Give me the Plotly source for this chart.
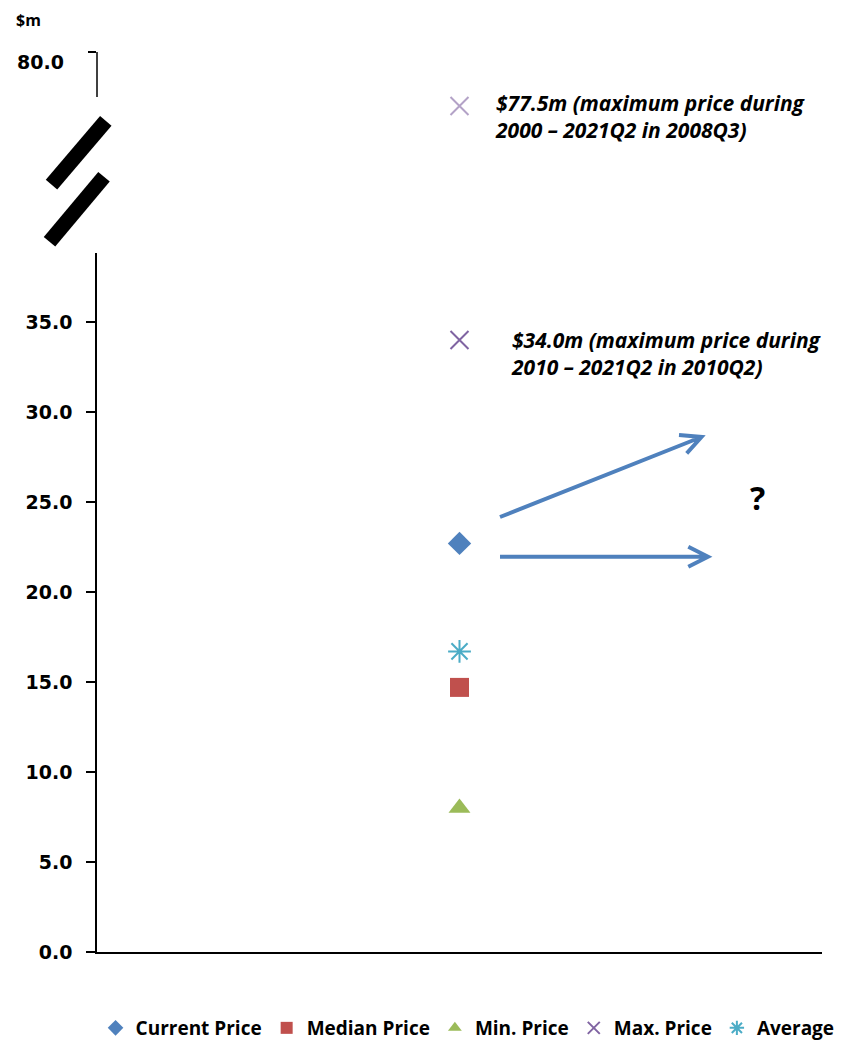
import plotly.graph_objects as go

# ---- data ----
category = [0.5]
current_price = [22.7]
median_price = [14.7]
min_price = [8.0]
max_price = [34.0]
max_price_all = [77.5]
average_price = [16.7]
y_ticks = [0, 5, 10, 15, 20, 25, 30, 35]

W, H = 845, 1040
L, R, T, B = 97, 822, 52, 952
PW, PH = R - L, B - T


def px(x):
    return (x - L) / PW


def py(y):
    return (B - y) / PH


BLUE = "#4F81BD"
fig = go.Figure()

fig.add_trace(go.Scatter(x=category, y=current_price, mode="markers", name="Current Price",
                         marker=dict(symbol="diamond", size=18, color=BLUE), cliponaxis=False))
fig.add_trace(go.Scatter(x=category, y=median_price, mode="markers", name="Median Price",
                         marker=dict(symbol="square", size=19, color="#C0504D"), cliponaxis=False))
fig.add_trace(go.Scatter(x=category, y=min_price, mode="markers", name="Min. Price",
                         marker=dict(symbol="triangle-up", size=19, color="#9BBB59"), cliponaxis=False))
fig.add_trace(go.Scatter(x=category, y=max_price, mode="markers", name="Max. Price", legendgroup="max",
                         marker=dict(symbol="x-thin-open", size=18, color="#8064A2",
                                     line=dict(width=2, color="#8064A2")), cliponaxis=False))
fig.add_trace(go.Scatter(x=category, y=average_price, mode="markers", name="Average",
                         marker=dict(symbol="asterisk-open", size=19, color="#4BACC6",
                                     line=dict(width=2, color="#4BACC6")), cliponaxis=False))
fig.add_trace(go.Scatter(x=category, y=max_price_all, mode="markers", name="Max. Price", legendgroup="max",
                         showlegend=False, yaxis="y2",
                         marker=dict(symbol="x-thin-open", size=18, color="#B3A2C7",
                                     line=dict(width=2, color="#B3A2C7")), cliponaxis=False))

tickfont = dict(family="DejaVu Sans", size=19, color="black", weight="bold")

fig.update_layout(
    width=W, height=H,
    margin=dict(l=L, r=W - R, t=T, b=H - B, autoexpand=False),
    plot_bgcolor="white", paper_bgcolor="white",
    showlegend=True,
    legend=dict(orientation="h", x=-0.002, y=py(1028), xanchor="left", yanchor="middle",
                font=dict(family="Open Sans", size=19, color="black", weight="bold"),
                itemsizing="constant", tracegroupgap=0),
    xaxis=dict(range=[0, 1], showgrid=False, zeroline=False, showticklabels=False, ticks="",
               showline=True, linecolor="black", linewidth=2, anchor="y", fixedrange=True),
    yaxis=dict(domain=[0, py(253)], range=[0, (B - 253) / 18.0], tickvals=y_ticks, tickformat=".1f",
               showgrid=False, zeroline=False, showline=True, linecolor="black", linewidth=1.5,
               ticks="outside", ticklen=9, tickwidth=1.5, tickcolor="black", tickfont=tickfont,
               ticklabelstandoff=10, anchor="x"),
    yaxis2=dict(domain=[py(115), 1], range=[77.0, 80.5], tickvals=[80.5], showticklabels=False,
                showgrid=False, zeroline=False, showline=False,
                ticks="outside", ticklen=8, tickwidth=1.5, tickcolor="black", anchor="x"),
)

annotations = [
    dict(text="80.0", x=px(15), y=py(62), xanchor="left", yanchor="middle", font=tickfont),
    dict(text="<b>$m</b>", x=px(14), y=py(20), xanchor="left", yanchor="middle",
         font=dict(family="Open Sans", size=16, color="black")),
    dict(text="<b><i>$77.5m (maximum price during<br>2000 – 2021Q2 in 2008Q3)</i></b>",
         x=px(493), y=py(116), xanchor="left", yanchor="middle", align="left",
         font=dict(family="Open Sans", size=21, color="black")),
    dict(text="<b><i>$34.0m (maximum price during<br>2010 – 2021Q2 in 2010Q2)</i></b>",
         x=px(509), y=py(353), xanchor="left", yanchor="middle", align="left",
         font=dict(family="Open Sans", size=21, color="black")),
    dict(text="<b>?</b>", x=px(757), y=py(497), xanchor="center", yanchor="middle",
         font=dict(family="Open Sans", size=32, color="black")),
]
for a in annotations:
    a.update(xref="paper", yref="paper", showarrow=False)
fig.update_layout(annotations=annotations)


def path(points_list):
    s = ""
    for pts in points_list:
        s += "M" + " L".join(f"{px(x):.5f},{py(y):.5f}" for x, y in pts) + " "
    return s.strip()


shapes = [
    # upper axis segment above the break
    dict(type="line", x0=px(97), y0=py(52), x1=px(97), y1=py(97),
         line=dict(color="black", width=1.5)),
    # axis break bars
    dict(type="line", x0=px(51.5), y0=py(184.7), x1=px(105.8), y1=py(120.8),
         line=dict(color="black", width=15)),
    dict(type="line", x0=px(49.5), y0=py(241.7), x1=px(104), y1=py(176.8),
         line=dict(color="black", width=15)),
    # arrows
    dict(type="path", path=path([[(500, 517), (701.5, 437)], [(679, 435), (701.5, 437), (686.7, 453.3)]]),
         line=dict(color=BLUE, width=4)),
    dict(type="path", path=path([[(500, 556.7), (708, 556.7)], [(688.3, 546.7), (708, 556.7), (688.3, 566.7)]]),
         line=dict(color=BLUE, width=4)),
]
for s in shapes:
    s.update(xref="paper", yref="paper")
fig.update_layout(shapes=shapes)

fig.write_html("out.html", config={"displayModeBar": False},
               post_script="document.body.style.margin='0px';")
